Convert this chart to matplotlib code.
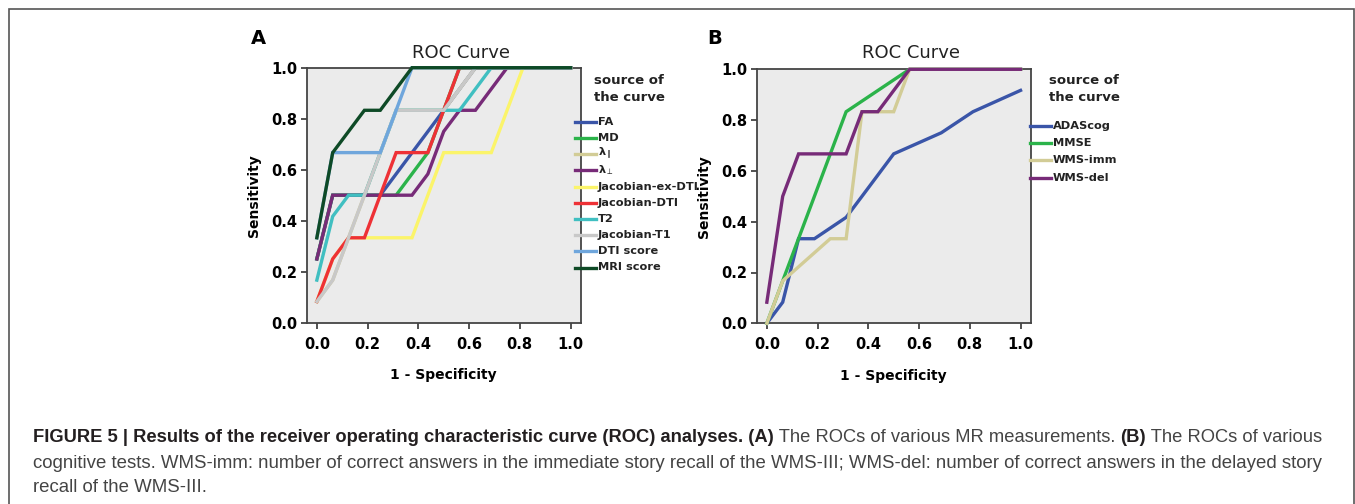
import matplotlib
matplotlib.use("Agg")
import matplotlib.pyplot as plt
from matplotlib.lines import Line2D
from matplotlib.patches import Rectangle

W, H = 1355, 504

# ---- panel A: ROC curves of MR measurements ----
labels_a = ["FA", "MD", r"λ$_{\parallel}$", r"λ$_{\perp}$", "Jacobian-ex-DTI",
            "Jacobian-DTI", "T2", "Jacobian-T1", "DTI score", "MRI score"]
colors_a = ["#3a55a8", "#2bb34a", "#d2cc96", "#772b78", "#fbf46a",
            "#ee3136", "#40bfc1", "#c8c8c8", "#6fa6dc", "#0e4a26"]

fpr_fa = [0, 0.0625, 0.25, 0.5, 0.625, 1]
tpr_fa = [0.25, 0.5, 0.5, 0.833, 1, 1]
fpr_md = [0, 0.0625, 0.3125, 0.4375, 0.5625, 1]
tpr_md = [0.25, 0.5, 0.5, 0.667, 1, 1]
fpr_lpar = [0, 0.0625, 0.3125, 0.5, 0.625, 1]
tpr_lpar = [0.083, 0.167, 0.833, 0.833, 1, 1]
fpr_lperp = [0, 0.0625, 0.375, 0.4375, 0.5, 0.5625, 0.625, 0.75, 1]
tpr_lperp = [0.25, 0.5, 0.5, 0.583, 0.75, 0.833, 0.833, 1, 1]
fpr_jexdti = [0, 0.0625, 0.125, 0.1875, 0.375, 0.5, 0.6875, 0.8125, 1]
tpr_jexdti = [0.083, 0.25, 0.333, 0.333, 0.333, 0.667, 0.667, 1, 1]
fpr_jdti = [0, 0.0625, 0.125, 0.1875, 0.3125, 0.4375, 0.5625, 1]
tpr_jdti = [0.083, 0.25, 0.333, 0.333, 0.667, 0.667, 1, 1]
fpr_t2 = [0, 0.0625, 0.125, 0.1875, 0.3125, 0.5625, 0.6875, 1]
tpr_t2 = [0.167, 0.417, 0.5, 0.5, 0.833, 0.833, 1, 1]
fpr_jt1 = [0, 0.0625, 0.3125, 0.5, 0.625, 1]
tpr_jt1 = [0.083, 0.167, 0.833, 0.833, 1, 1]
fpr_dti = [0, 0.0625, 0.25, 0.3125, 0.375, 1]
tpr_dti = [0.333, 0.667, 0.667, 0.833, 1, 1]
fpr_mri = [0, 0.0625, 0.1875, 0.25, 0.375, 1]
tpr_mri = [0.333, 0.667, 0.833, 0.833, 1, 1]

curves_a = [(fpr_fa, tpr_fa), (fpr_md, tpr_md), (fpr_lpar, tpr_lpar), (fpr_lperp, tpr_lperp),
            (fpr_jexdti, tpr_jexdti), (fpr_jdti, tpr_jdti), (fpr_t2, tpr_t2),
            (fpr_jt1, tpr_jt1), (fpr_dti, tpr_dti), (fpr_mri, tpr_mri)]

# ---- panel B: ROC curves of cognitive tests ----
labels_b = ["ADAScog", "MMSE", "WMS-imm", "WMS-del"]
colors_b = ["#3a55a8", "#2bb34a", "#d2cc96", "#772b78"]

fpr_adas = [0, 0.0625, 0.125, 0.1875, 0.3125, 0.375, 0.5, 0.6875, 0.8125, 1]
tpr_adas = [0, 0.083, 0.333, 0.333, 0.417, 0.5, 0.667, 0.75, 0.833, 0.917]
fpr_mmse = [0, 0.0625, 0.3125, 0.5625, 1]
tpr_mmse = [0, 0.167, 0.833, 1, 1]
fpr_imm = [0, 0.0625, 0.25, 0.3125, 0.375, 0.5, 0.5625, 1]
tpr_imm = [0, 0.167, 0.333, 0.333, 0.833, 0.833, 1, 1]
fpr_del = [0, 0.0625, 0.125, 0.3125, 0.375, 0.4375, 0.5625, 1]
tpr_del = [0.083, 0.5, 0.667, 0.667, 0.833, 0.833, 1, 1]

curves_b = [(fpr_adas, tpr_adas), (fpr_mmse, tpr_mmse), (fpr_imm, tpr_imm), (fpr_del, tpr_del)]

ticks = [0.0, 0.2, 0.4, 0.6, 0.8, 1.0]
tick_labels = ["0.0", "0.2", "0.4", "0.6", "0.8", "1.0"]

caption_line1 = [
    ("FIGURE 5 | Results of the receiver operating characteristic curve (ROC) analyses. (A)", "bold"),
    (" The ROCs of various MR measurements. ", "normal"),
    ("(B)", "bold"),
    (" The ROCs of various", "normal"),
]
caption_line2 = ("cognitive tests. WMS-imm: number of correct answers in the immediate story recall of the "
                 "WMS-III; WMS-del: number of correct answers in the delayed story")
caption_line3 = "recall of the WMS-III."


def fx(px):
    return px / W


def fy(py):
    return 1 - py / H


def draw_panel(fig, rect, curves, labels, colors, legend_pos, title_x, letter, letter_px):
    ax = fig.add_axes(rect)
    ax.set_facecolor("#ebebeb")
    for (x, y), lab, col in zip(curves, labels, colors):
        ax.plot(x, y, color=col, lw=2.4, label=lab, clip_on=False,
                solid_joinstyle="miter", zorder=3)
    ax.set_xlim(-0.04, 1.04)
    ax.set_ylim(0, 1)
    ax.set_xticks(ticks)
    ax.set_yticks(ticks)
    ax.set_xticklabels(tick_labels, fontweight="bold", fontsize=10.5)
    ax.set_yticklabels(tick_labels, fontweight="bold", fontsize=10.5)
    ax.tick_params(direction="out", length=4, width=1.2, color="#333333")
    ax.tick_params(axis="x", pad=6)
    ax.tick_params(axis="y", pad=3)
    for sp in ax.spines.values():
        sp.set_color("#444444")
        sp.set_linewidth(1.3)
    ax.set_xlabel("1 - Specificity", fontweight="bold", fontsize=10, labelpad=12)
    ax.set_ylabel("Sensitivity", fontweight="bold", fontsize=10, labelpad=7)

    fig.text(title_x, fy(53), "ROC Curve", ha="center", va="center", fontsize=13, color="#222222")
    fig.text(fx(letter_px[0]), fy(letter_px[1]), letter, ha="center", va="center",
             fontsize=14, fontweight="bold")

    # legend ("source of the curve") laid out like the SPSS output
    lx, ly, pitch = legend_pos
    fig.text(fx(lx + 19), fy(80.5), "source of", ha="left", va="center",
             fontsize=9.5, fontweight="bold", color="#222222")
    fig.text(fx(lx + 19), fy(97.5), "the curve", ha="left", va="center",
             fontsize=9.5, fontweight="bold", color="#222222")
    for i, (lab, col) in enumerate(zip(labels, colors)):
        yy = fy(ly + i * pitch)
        fig.add_artist(Line2D([fx(lx), fx(lx + 21)], [yy, yy], color=col, lw=2.4,
                              transform=fig.transFigure))
        fig.text(fx(lx + 23), yy, lab, ha="left", va="center", fontsize=8.2,
                 fontweight="bold", color="#222222")
    return ax


fig = plt.figure(figsize=(W / 100, H / 100), dpi=100)

rect_a = [fx(306.7), fy(322.7), fx(580.7) - fx(306.7), (322.7 - 67.7) / H]
rect_b = [fx(756.7), fy(323.3), fx(1030.7) - fx(756.7), (323.3 - 69.3) / H]

draw_panel(fig, rect_a, curves_a, labels_a, colors_a, (575, 121.7, 16.2), fx(461),
           "A", (258, 38))
draw_panel(fig, rect_b, curves_b, labels_b, colors_b, (1030, 125.7, 17.3), fx(911.5),
           "B", (715, 38))

# outer frame
fig.patches.append(Rectangle((fx(8.5), -0.05), fx(1354) - fx(8.5), fy(9) + 0.05,
                             transform=fig.transFigure, fill=False,
                             edgecolor="#555555", lw=1.2))

# caption
cap_size = 13.2
fig.canvas.draw()
renderer = fig.canvas.get_renderer()
x = fx(33)
for piece, weight in caption_line1:
    t = fig.text(x, fy(437), piece, ha="left", va="center", fontsize=cap_size,
                 fontweight=weight, color="#231f20" if weight == "bold" else "#444444",
                 family="Liberation Sans")
    bb = t.get_window_extent(renderer)
    x += bb.width / W
fig.text(fx(33), fy(463), caption_line2, ha="left", va="center", fontsize=13.4,
         color="#444444", family="Liberation Sans")
fig.text(fx(33), fy(488), caption_line3, ha="left", va="center", fontsize=13.4,
         color="#444444", family="Liberation Sans")

fig.savefig("out.png", dpi=100)
